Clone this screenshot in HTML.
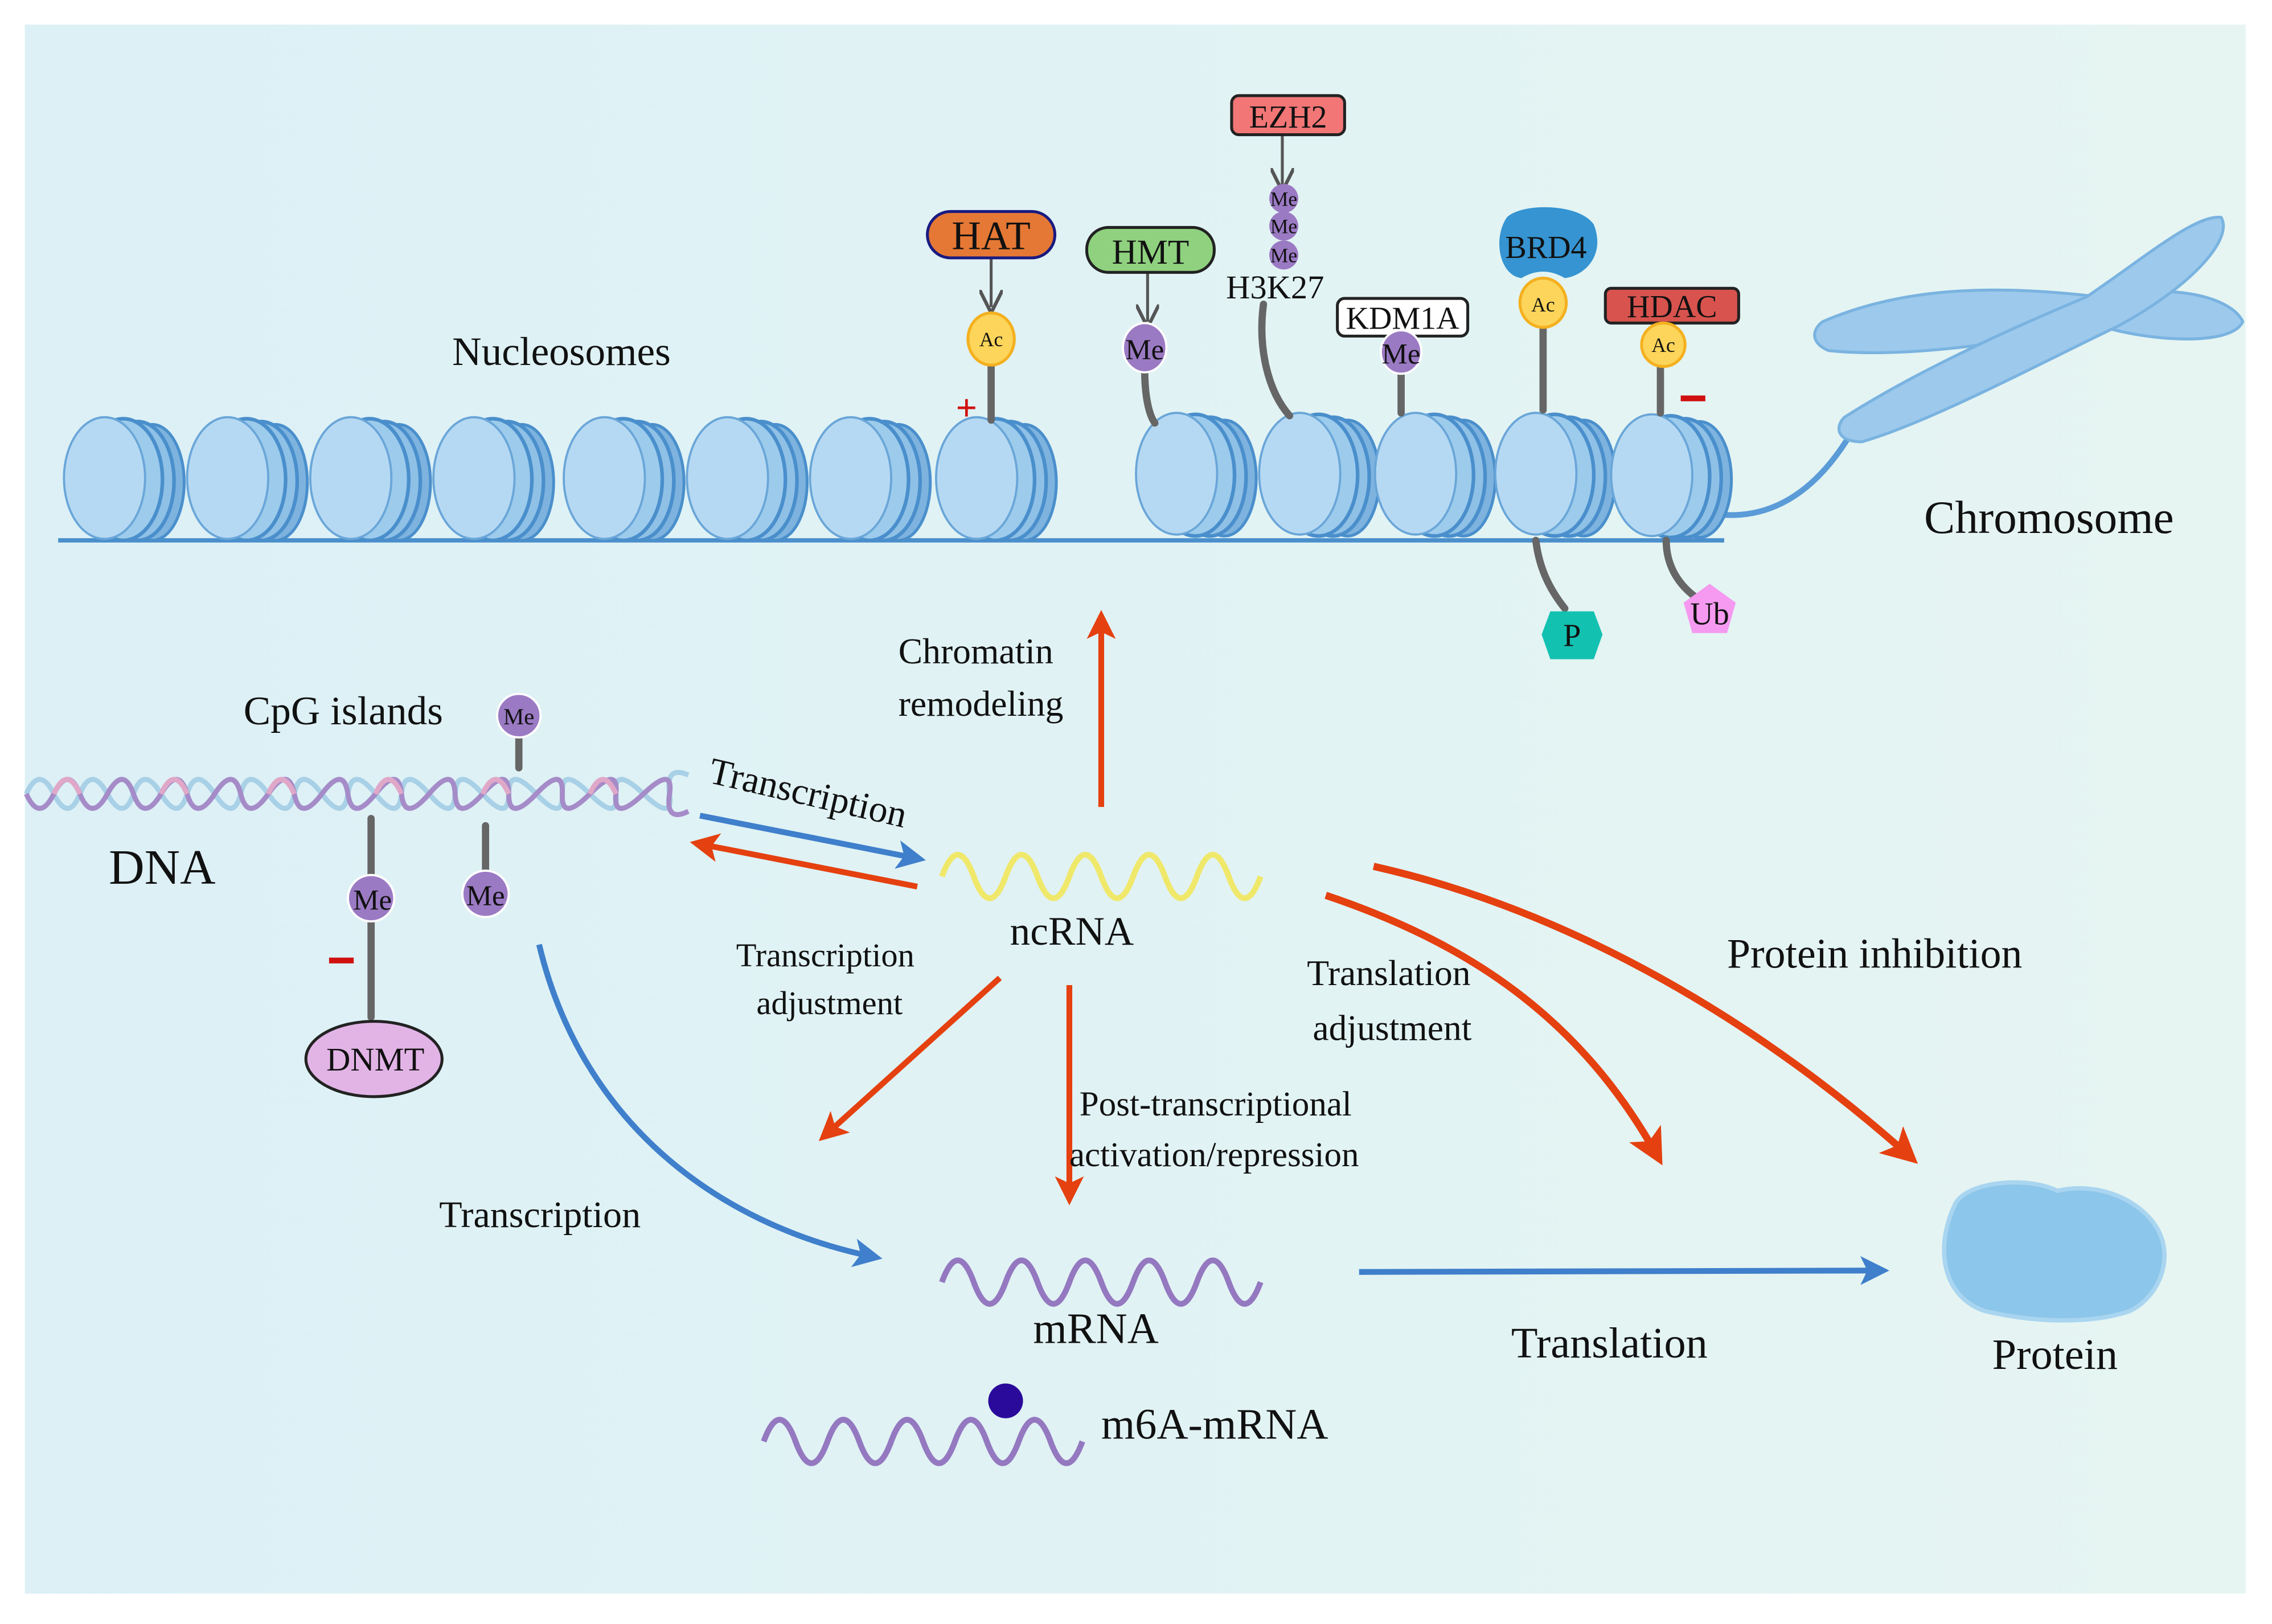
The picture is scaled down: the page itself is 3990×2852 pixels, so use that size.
<!DOCTYPE html>
<html><head><meta charset="utf-8"><style>
html,body{margin:0;padding:0;background:#fff;}
svg{display:block;}
text{font-family:"Liberation Serif",serif;fill:#111;}
</style></head><body>
<svg width="3990" height="2852" viewBox="0 0 1568 1121" xmlns="http://www.w3.org/2000/svg">
<defs>
<linearGradient id="bg" x1="0" y1="0" x2="1" y2="0">
<stop offset="0" stop-color="#dcf0f6"/><stop offset="1" stop-color="#e6f5f2"/></linearGradient>
<g id="nuc">
<ellipse cx="30" cy="3" rx="22" ry="40" fill="#7db3de" stroke="#4a8fcc" stroke-width="2"/>
<ellipse cx="20" cy="2" rx="25" ry="41" fill="#8fc0e6" stroke="#4a8fcc" stroke-width="2.5"/>
<ellipse cx="10" cy="1" rx="27" ry="42" fill="#9ccbec" stroke="#4a8fcc" stroke-width="2.5"/>
<ellipse cx="-3" cy="0" rx="28" ry="42" fill="#b6d9f3" stroke="#6aa6d8" stroke-width="1.5"/>
</g>
<marker id="ar" markerWidth="5" markerHeight="5" refX="4" refY="2.5" orient="auto" markerUnits="strokeWidth"><path d="M0,0 L5,2.5 L0,5 L1.2,2.5z" fill="#e5400f"/></marker>
<marker id="ab" markerWidth="5" markerHeight="5" refX="4" refY="2.5" orient="auto" markerUnits="strokeWidth"><path d="M0,0 L5,2.5 L0,5 L1.2,2.5z" fill="#3f7fcb"/></marker>
<marker id="ag" markerWidth="8" markerHeight="8" refX="6" refY="4" orient="auto" markerUnits="strokeWidth"><path d="M0,0 L8,4 L0,8" fill="none" stroke="#555" stroke-width="1.2"/></marker>
</defs>
<rect x="17" y="17" width="1533" height="1083" fill="url(#bg)"/>

<path d="M40,373 L1190,373" stroke="#4a8fcc" stroke-width="3" fill="none"/>
<path d="M1185,355 C1230,360 1260,330 1280,295" stroke="#5a9bd8" stroke-width="4" fill="none"/>
<g>
<use href="#nuc" x="75" y="330"/><use href="#nuc" x="160" y="330"/><use href="#nuc" x="245" y="330"/><use href="#nuc" x="330" y="330"/>
<use href="#nuc" x="420" y="330"/><use href="#nuc" x="505" y="330"/><use href="#nuc" x="590" y="330"/><use href="#nuc" x="677" y="330"/>
<use href="#nuc" x="815" y="327"/><use href="#nuc" x="900" y="327"/><use href="#nuc" x="980" y="327"/><use href="#nuc" x="1063" y="327"/><use href="#nuc" x="1143" y="328"/>
</g>
<g fill="#9cc9ec" stroke="#7ab3e0" stroke-width="2">
<path d="M1258,222 C1320,195 1390,198 1450,205 C1500,195 1540,205 1548,222 C1540,240 1480,235 1450,225 C1390,235 1320,248 1262,242 C1250,237 1250,228 1258,222Z"/>
<path d="M1273,288 C1320,258 1380,230 1440,205 C1480,178 1515,148 1533,150 C1542,165 1512,198 1462,225 C1400,255 1330,292 1285,305 C1268,305 1266,295 1273,288Z"/>
</g>
<text x="1328" y="368" font-size="32">Chromosome</text>
<text x="312" y="252" font-size="28">Nucleosomes</text>

<g stroke="#666" stroke-width="5" fill="none" stroke-linecap="round">
<path d="M684,250 L684,290"/>
<path d="M790,255 C790,270 792,285 797,292"/>
<path d="M872,210 C868,240 875,270 890,287"/>
<path d="M967,255 L967,285"/>
<path d="M1065,225 L1065,283"/>
<path d="M1146,250 L1146,285"/>
<path d="M1060,373 C1062,390 1068,405 1080,420"/>
<path d="M1150,373 C1150,390 1158,403 1170,412"/>
<path d="M358,508 L358,530"/>
<path d="M256,565 L256,702"/>
<path d="M335,570 L335,602"/>
</g>
<g stroke="#555" stroke-width="2" fill="none">
<path d="M684,178 L684,212" marker-end="url(#ag)"/>
<path d="M792,188 L792,222" marker-end="url(#ag)"/>
<path d="M885,92 L885,128" marker-end="url(#ag)"/>
</g>
<rect x="640" y="146" width="88" height="32" rx="16" fill="#e47834" stroke="#1a1a80" stroke-width="2"/>
<text x="684" y="172" font-size="28" text-anchor="middle">HAT</text>
<rect x="750" y="157" width="88" height="31" rx="15" fill="#8fd17f" stroke="#222" stroke-width="2"/>
<text x="794" y="182" font-size="24" text-anchor="middle">HMT</text>
<rect x="850" y="66" width="78" height="27" rx="5" fill="#f27676" stroke="#222" stroke-width="2"/>
<text x="889" y="88" font-size="22" text-anchor="middle">EZH2</text>
<circle cx="886" cy="137" r="10" fill="#9b7ac4"/><circle cx="886" cy="156" r="10" fill="#9b7ac4"/><circle cx="886" cy="176" r="10" fill="#9b7ac4"/>
<text x="886" y="142" font-size="14" text-anchor="middle">Me</text><text x="886" y="161" font-size="14" text-anchor="middle">Me</text><text x="886" y="181" font-size="14" text-anchor="middle">Me</text>
<text x="880" y="206" font-size="23" text-anchor="middle">H3K27</text>
<rect x="923" y="206" width="90" height="26" rx="5" fill="#fff" stroke="#222" stroke-width="2"/>
<text x="968" y="227" font-size="22" text-anchor="middle">KDM1A</text>
<path d="M1040,150 C1050,140 1090,140 1100,155 C1108,175 1095,190 1080,192 C1070,186 1060,186 1050,192 C1035,190 1030,165 1040,150Z" fill="#3594d1"/>
<text x="1067" y="178" font-size="22" text-anchor="middle">BRD4</text>
<rect x="1108" y="199" width="92" height="24" rx="4" fill="#d8534e" stroke="#222" stroke-width="2"/>
<text x="1154" y="219" font-size="22" text-anchor="middle">HDAC</text>
<g fill="#fcd55a" stroke="#f4b01f" stroke-width="2">
<ellipse cx="684" cy="234" rx="16" ry="18"/><ellipse cx="1065" cy="209" rx="16" ry="17"/><ellipse cx="1148" cy="238" rx="15" ry="15"/>
</g>
<text x="684" y="239" font-size="14" text-anchor="middle">Ac</text>
<text x="1065" y="215" font-size="14" text-anchor="middle">Ac</text>
<text x="1148" y="243" font-size="14" text-anchor="middle">Ac</text>
<g fill="#9b7ac4" stroke="#fff" stroke-width="1.5">
<ellipse cx="790" cy="240" rx="15" ry="17"/><ellipse cx="967" cy="243" rx="14" ry="15"/>
<circle cx="358" cy="494" r="15"/><circle cx="256" cy="620" r="16"/><circle cx="335" cy="617" r="16"/>
</g>
<text x="790" y="248" font-size="20" text-anchor="middle">Me</text>
<text x="967" y="251" font-size="20" text-anchor="middle">Me</text>
<text x="358" y="500" font-size="16" text-anchor="middle">Me</text>
<text x="257" y="628" font-size="20" text-anchor="middle">Me</text>
<text x="335" y="625" font-size="20" text-anchor="middle">Me</text>
<text x="667" y="290" font-size="26" text-anchor="middle" font-weight="bold" style="fill:#d01010">+</text>
<rect x="1160" y="273" width="17" height="4" fill="#d01010"/>
<rect x="227" y="661" width="17" height="4" fill="#d01010"/>
<polygon points="1084,422 1100,422 1106,438 1100,455 1070,455 1064,438 1070,422" fill="#13c1b1"/>
<text x="1085" y="446" font-size="22" text-anchor="middle">P</text>
<polygon points="1180,403 1198,416 1192,437 1168,437 1162,416" fill="#f59af0"/>
<text x="1180" y="431" font-size="22" text-anchor="middle">Ub</text>
<ellipse cx="258" cy="731" rx="47" ry="26" fill="#e2b4e6" stroke="#222" stroke-width="2"/>
<text x="259" y="739" font-size="23" text-anchor="middle">DNMT</text>

<g fill="none" stroke-width="3.5">
<path d="M18,548 Q27,528 37,548 T55,548 T74,548 T92,548 T111,548 T129,548 T148,548 T166,548 T185,548 T203,548 T222,548 T240,548 T259,548 T277,548 T296,548 T314,548 T333,548 T351,548 T370,548 T388,548 T407,548 T425,548 T444,548 T462,548 T475,535" stroke="#a8d0e6"/>
<path d="M18,548 Q27,568 37,548 T55,548 T74,548 T92,548 T111,548 T129,548 T148,548 T166,548 T185,548 T203,548 T222,548 T240,548 T259,548 T277,548 T296,548 T314,548 T333,548 T351,548 T370,548 T388,548 T407,548 T425,548 T444,548 T462,548 T475,560" stroke="#a58cc8"/>
<path d="M37,548 Q46,528 55,548 M111,548 Q120,528 129,548 M185,548 Q194,528 203,548 M259,548 Q268,528 277,548 M333,548 Q342,528 351,548 M407,548 Q416,528 425,548" stroke="#e0a8c8"/>
</g>
<text x="168" y="500" font-size="28">CpG islands</text>
<text x="75" y="610" font-size="34">DNA</text>

<path d="M650,605 Q661,575 672,605 T694,605 T716,605 T738,605 T760,605 T782,605 T804,605 T826,605 T848,605 T870,605" fill="none" stroke="#f0e86a" stroke-width="4"/>
<path d="M650,885 Q661,855 672,885 T694,885 T716,885 T738,885 T760,885 T782,885 T804,885 T826,885 T848,885 T870,885" fill="none" stroke="#9478c0" stroke-width="4"/>
<path d="M527,995 Q538,965 549,995 T571,995 T593,995 T615,995 T637,995 T659,995 T681,995 T703,995 T725,995 T747,995" fill="none" stroke="#9478c0" stroke-width="4"/>
<circle cx="694" cy="967" r="12" fill="#2a0a9a"/>
<text x="697" y="652" font-size="28">ncRNA</text>
<text x="713" y="927" font-size="30">mRNA</text>
<text x="760" y="993" font-size="30">m6A-mRNA</text>

<path d="M1350,830 C1360,815 1400,812 1420,822 C1450,815 1480,830 1490,850 C1500,870 1490,895 1470,905 C1440,915 1400,912 1370,905 C1340,895 1335,860 1350,830Z" fill="#8cc6ea" stroke="#a9d5f0" stroke-width="3"/>
<text x="1375" y="945" font-size="30">Protein</text>

<g fill="none" stroke-width="4">
<path d="M760,557 L760,425" stroke="#e5400f" marker-end="url(#ar)"/>
<path d="M483,563 L635,593" stroke="#3f7fcb" marker-end="url(#ab)"/>
<path d="M633,612 L480,582" stroke="#e5400f" marker-end="url(#ar)"/>
<path d="M690,675 L568,785" stroke="#e5400f" marker-end="url(#ar)"/>
<path d="M738,680 L738,828" stroke="#e5400f" marker-end="url(#ar)"/>
<path d="M915,618 C1010,650 1090,700 1145,800" stroke="#e5400f" stroke-width="5" marker-end="url(#ar)"/>
<path d="M948,598 C1090,630 1220,710 1320,800" stroke="#e5400f" stroke-width="5" marker-end="url(#ar)"/>
<path d="M372,652 C400,770 490,845 605,868" stroke="#3f7fcb" marker-end="url(#ab)"/>
<path d="M938,878 L1300,877" stroke="#3f7fcb" marker-end="url(#ab)"/>
</g>

<text x="620" y="458" font-size="25">Chromatin</text>
<text x="620" y="494" font-size="25">remodeling</text>
<text x="488" y="540" font-size="26" transform="rotate(13 488 540)">Transcription</text>
<text x="508" y="667" font-size="23">Transcription</text>
<text x="522" y="700" font-size="23">adjustment</text>
<text x="745" y="770" font-size="24">Post-transcriptional</text>
<text x="738" y="805" font-size="24">activation/repression</text>
<text x="902" y="680" font-size="25">Translation</text>
<text x="906" y="718" font-size="25">adjustment</text>
<text x="1192" y="668" font-size="29">Protein inhibition</text>
<text x="303" y="847" font-size="26">Transcription</text>
<text x="1043" y="937" font-size="30">Translation</text>
</svg>
</body></html>
